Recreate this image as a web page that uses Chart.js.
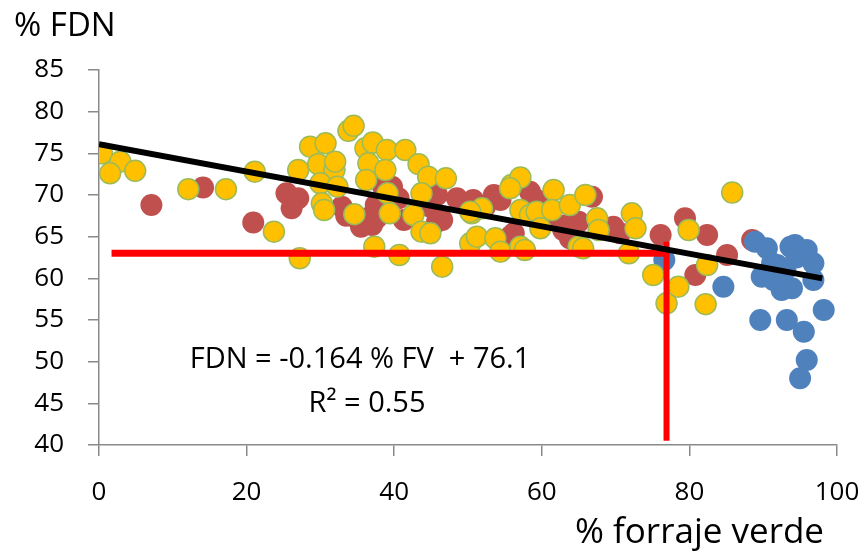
<!DOCTYPE html>
<html>
<head>
<meta charset="utf-8">
<script src="https://cdn.jsdelivr.net/npm/chart.js@4.4.0/dist/chart.umd.min.js"></script>
<style>
  html, body { margin: 0; padding: 0; background: #fff; }
  #chart { display: block; }
</style>
</head>
<body>
<canvas id="chart" width="866" height="554"></canvas>
<script>
// Values: x = % forraje verde, y = % FDN

// red group
const redX = [7.1, 14.1, 20.9, 25.4, 27.0, 26.1, 32.9, 33.5, 34.9, 35.5, 36.3, 37.0, 37.6, 37.5,
  38.5, 39.7, 40.6, 41.3, 44.9, 45.8, 45.8, 46.5, 48.5, 50.7, 52.3, 53.5, 54.4, 55.7, 56.2,
  58.4, 59.3, 61.0, 62.9, 63.4, 63.8, 64.3, 65.0, 66.8, 69.7, 70.6, 76.1, 79.4, 82.4, 80.8,
  85.1, 88.5];
const redY = [68.8, 70.9, 66.7, 70.2, 69.6, 68.4, 68.6, 67.5, 67.2, 66.2, 67.2, 66.4, 67.2, 68.8,
  71.0, 71.0, 69.6, 67.0, 68.6, 66.8, 70.0, 67.0, 69.6, 69.4, 68.6, 70.0, 69.4, 65.0, 65.4,
  70.4, 69.4, 67.0, 65.8, 66.4, 64.8, 64.6, 66.8, 69.8, 66.2, 65.4, 65.2, 67.2, 65.2, 60.4,
  62.8, 64.6];

// yellow group
const yellowX = [0.4, 2.9, 1.5, 4.9, 12.1, 17.2, 21.1, 23.7, 27.2, 27.0, 28.6, 30.7, 29.7, 31.9,
  32.0, 30.0, 32.3, 30.2, 30.5, 33.8, 34.5, 34.6, 36.1, 37.1, 36.5, 36.2, 37.3, 39.0, 38.8,
  39.1, 39.4, 41.5, 40.7, 42.6, 43.3, 44.6, 47.0, 43.7, 43.7, 44.9, 46.5, 50.5, 51.9, 50.3,
  51.2, 53.7, 54.4, 55.9, 57.1, 57.1, 58.4, 59.3, 59.8, 61.6, 61.4, 63.8, 57.1, 57.7, 65.0,
  65.9, 67.5, 67.7, 65.6, 72.2, 72.7, 71.8, 75.1, 76.9, 79.9, 78.5, 82.4, 82.2, 85.8, 50.3,
  55.7];
const yellowY = [75.0, 74.0, 72.6, 72.9, 70.7, 70.7, 72.8, 65.6, 62.4, 73.0, 75.8, 76.2, 73.7, 73.0,
  74.0, 71.4, 71.0, 69.0, 68.2, 77.7, 78.3, 67.7, 75.6, 76.3, 73.8, 71.8, 63.8, 75.4, 73.0,
  70.2, 67.8, 75.4, 62.8, 67.6, 73.7, 72.2, 72.0, 70.2, 65.6, 65.4, 61.4, 67.8, 68.4, 64.2,
  65.0, 64.8, 63.2, 71.2, 72.1, 68.2, 67.6, 68.0, 66.0, 70.6, 68.2, 68.8, 63.8, 63.4, 63.8,
  70.0, 67.2, 65.8, 63.6, 67.8, 66.0, 63.0, 60.4, 57.0, 65.8, 59.0, 61.6, 56.9, 70.3, 68.0,
  70.8];

// blue group
const blueX = [76.6, 84.6, 88.9, 90.5, 89.8, 89.6, 93.7, 94.3, 95.9, 96.8, 91.9, 91.2, 91.4,
  92.5, 93.9, 96.8, 98.2, 93.2, 95.5, 95.9, 95.0, 93.0, 94.5];
const blueY = [62.2, 59.0, 64.4, 63.6, 60.2, 55.0, 63.8, 64.0, 63.4, 61.8, 61.6, 61.8, 59.8,
  58.6, 58.8, 59.8, 56.2, 55.0, 53.6, 50.2, 48.0, 61.0, 62.5];

// regression line FDN = -0.164 % FV + 76.1
const trendX = [0, 98];
const trendY = [76.1, 60.0];

// red guide lines
const guideHX = [1.7, 77.3];
const guideHY = [63, 63];
const guideVX = [76.9, 76.9];
const guideVY = [40.5, 64.4];

const xTicks = [0, 20, 40, 60, 80, 100];
const yTicks = [40, 45, 50, 55, 60, 65, 70, 75, 80, 85];

function toPoints(xs, ys) {
  return xs.map(function (x, i) { return { x: x, y: ys[i] }; });
}

const FONT = '"Open Sans", "Liberation Sans", sans-serif';

// Free text: axis names and the equation
const textLabels = {
  id: 'textLabels',
  afterDraw(chart) {
    const ctx = chart.ctx;
    ctx.save();
    ctx.fillStyle = '#000';
    ctx.textBaseline = 'alphabetic';

    ctx.font = '33px ' + FONT;
    ctx.textAlign = 'left';
    ctx.fillText('% FDN', 14, 36);

    ctx.font = '35px ' + FONT;
    ctx.textAlign = 'right';
    ctx.fillText('% forraje verde', 824, 543);

    ctx.font = '29px ' + FONT;
    ctx.textAlign = 'center';
    ctx.fillText('FDN = -0.164 % FV  + 76.1', 360, 368);
    ctx.fillText('R\u00B2 = 0.55', 367, 412);
    ctx.restore();
  }
};

const axisColor = '#8a8a8a';

new Chart(document.getElementById('chart'), {
  type: 'scatter',
  data: {
    datasets: [
      {
        type: 'line',
        data: toPoints(trendX, trendY),
        borderColor: '#000',
        borderWidth: 6,
        pointRadius: 0,
        fill: false,
        order: 0
      },
      {
        type: 'line',
        data: toPoints(guideHX, guideHY),
        borderColor: '#ff0000',
        borderWidth: 7,
        pointRadius: 0,
        fill: false,
        order: 0
      },
      {
        type: 'line',
        data: toPoints(guideVX, guideVY),
        borderColor: '#ff0000',
        borderWidth: 6,
        pointRadius: 0,
        fill: false,
        order: 0
      },
      {
        data: toPoints(yellowX, yellowY),
        backgroundColor: '#ffc000',
        borderColor: '#9bbb59',
        borderWidth: 1.5,
        pointRadius: 10.5,
        order: 2
      },
      {
        data: toPoints(blueX, blueY),
        backgroundColor: '#4f81bd',
        borderColor: '#4f81bd',
        borderWidth: 0,
        pointRadius: 11,
        order: 3
      },
      {
        data: toPoints(redX, redY),
        backgroundColor: '#c0504d',
        borderColor: '#c0504d',
        borderWidth: 0,
        pointRadius: 11,
        order: 4
      }
    ]
  },
  options: {
    responsive: false,
    animation: false,
    devicePixelRatio: 1,
    layout: { padding: { top: 70, right: 29, left: 0, bottom: 0 } },
    plugins: {
      legend: { display: false },
      tooltip: { enabled: false }
    },
    scales: {
      x: {
        type: 'linear',
        min: 0,
        max: 100,
        afterFit: function (scale) {
          scale.height = 109;
          scale.paddingLeft = 0;
          scale.paddingRight = 0;
        },
        afterBuildTicks: function (scale) {
          scale.ticks = xTicks.map(function (v) { return { value: v }; });
        },
        ticks: { color: '#000', font: { size: 26, family: FONT }, padding: 21, maxRotation: 0 },
        grid: { drawOnChartArea: false, drawTicks: true, tickLength: 11, color: axisColor, lineWidth: 1.5 },
        border: { color: axisColor, width: 1.5 }
      },
      y: {
        type: 'linear',
        min: 40,
        max: 85,
        afterFit: function (scale) {
          scale.width = 99;
          scale.paddingTop = 0;
          scale.paddingBottom = 0;
        },
        afterBuildTicks: function (scale) {
          scale.ticks = yTicks.map(function (v) { return { value: v }; });
        },
        ticks: { color: '#000', font: { size: 26, family: FONT }, padding: 24 },
        grid: { drawOnChartArea: false, drawTicks: true, tickLength: 11, color: axisColor, lineWidth: 1.5 },
        border: { color: axisColor, width: 1.5 }
      }
    }
  },
  plugins: [textLabels]
});
</script>
</body>
</html>
